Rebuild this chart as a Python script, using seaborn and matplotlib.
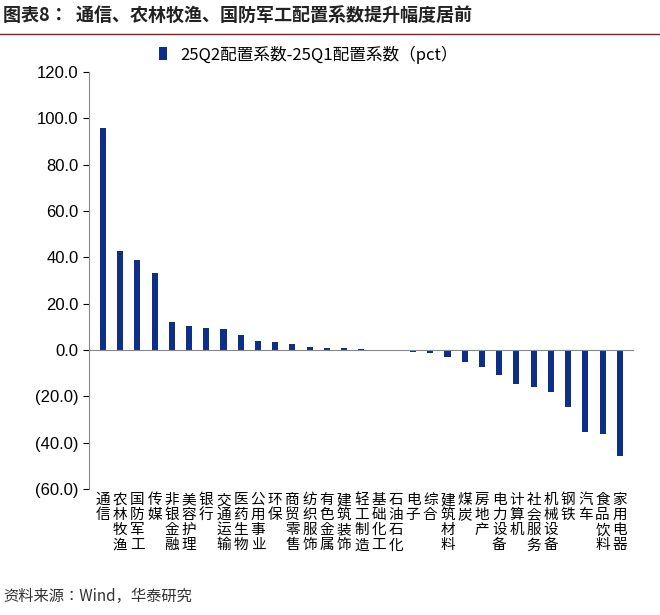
import numpy as np
import pandas as pd
import seaborn as sns
import matplotlib.pyplot as plt

plt.rcParams['font.family'] = ['Noto Sans CJK SC', 'Noto Sans CJK JP', 'Noto Sans CJK TC', 'DejaVu Sans']

industries = ['通信', '农林牧渔', '国防军工', '传媒', '非银金融', '美容护理', '银行', '交通运输',
              '医药生物', '公用事业', '环保', '商贸零售', '纺织服饰', '有色金属', '建筑装饰', '轻工制造',
              '基础化工', '石油石化', '电子', '综合', '建筑材料', '煤炭', '房地产', '电力设备',
              '计算机', '社会服务', '机械设备', '钢铁', '汽车', '食品饮料', '家用电器']
values = [96.0, 42.5, 39.0, 33.0, 12.0, 10.2, 9.5, 9.2, 6.3, 3.8, 3.3, 2.6, 1.1, 0.8, 0.9, 0.5,
          -0.3, -0.5, -0.8, -1.2, -3.0, -5.0, -7.5, -11.0, -14.5, -16.0, -18.0, -24.5, -35.5, -36.5, -46.0]
series_name = '25Q2配置系数-25Q1配置系数（pct）'

df = pd.DataFrame({'ind': industries, 'val': values})

fig = plt.figure(figsize=(6.6, 6.15), dpi=100)
ax = fig.add_axes([0.135, 0.205, 0.825, 0.678])
sns.barplot(data=df, x='ind', y='val', color='#0e2f87', width=0.35, ax=ax,
            saturation=1, label=series_name)

ax.set_ylim(-60, 120)
ax.set_yticks(np.arange(-60, 121, 20))
ax.set_yticklabels([f'({abs(v):.1f})' if v < 0 else f'{v:.1f}' for v in np.arange(-60, 121, 20)],
                   fontsize=12, fontfamily='Liberation Sans')
ax.set_xlim(-0.8, len(industries) - 0.2)
ax.set_xticks(range(len(industries)))
ax.set_xticklabels(['\n'.join(s) for s in industries], fontsize=10.5, linespacing=1.1, va='top')
ax.tick_params(axis='x', length=0, pad=3)
ax.tick_params(axis='y', length=4, direction='out')
ax.set_xlabel('')
ax.set_ylabel('')
for s in ['top', 'right', 'bottom']:
    ax.spines[s].set_visible(False)
ax.spines['left'].set_color('#888888')
ax.axhline(0, color='#888888', lw=0.8)
ax.legend(loc='upper left', bbox_to_anchor=(0.1, 1.1), frameon=False, fontsize=12,
          handlelength=0.5, handleheight=0.8)

fig.text(0.005, 0.975, '图表8：  通信、农林牧渔、国防军工配置系数提升幅度居前', fontsize=13,
         fontweight='bold', va='center', color='#222222')
fig.add_artist(plt.Line2D([0, 1], [0.945, 0.945], color='#8b1a1a', lw=1))
fig.text(0.005, 0.03, '资料来源：Wind，华泰研究', fontsize=11, color='#333333', va='center')

fig.savefig('out.png')
